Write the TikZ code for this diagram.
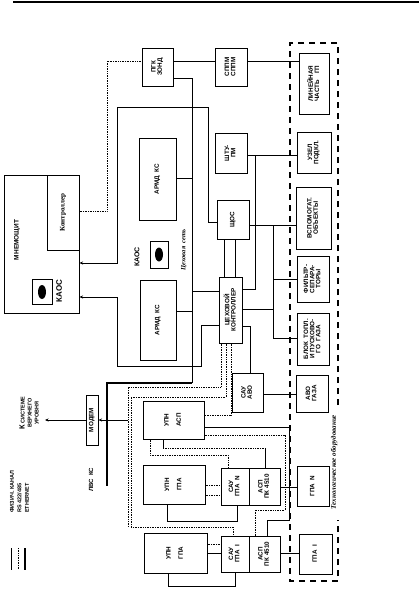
\documentclass[tikz,border=0pt]{standalone}
\usepackage{fontspec}
\usepackage{graphicx}
\setmainfont{Liberation Sans}
\newfontfamily\serifcyr{Liberation Serif}
\usetikzlibrary{arrows.meta}
\newcommand\rtxt[1]{\rotatebox{90}{\renewcommand\arraystretch{0.85}\begin{tabular}{@{}c@{}}#1\end{tabular}}}
\newcommand\bx[6]{%
  \pgfmathsetmacro\bxw{#4-#2}\pgfmathsetmacro\bxh{#5-#3}%
  \node[box,minimum width=\bxw pt,minimum height=\bxh pt] (#1) at ({(#2+#4)/2},{(#3+#5)/2}) {#6};}
\begin{document}
\begin{tikzpicture}[x=1pt,y=-1pt,
  box/.style={draw,line width=1pt,inner sep=0pt,font=\fontsize{6.3}{7}\selectfont\bfseries},
  ln/.style={line width=0.95pt},
  eth/.style={line width=1.7pt},
  rs/.style={line width=0.65pt,dash pattern=on 0.8pt off 0.9pt},
  lbl/.style={font=\fontsize{6}{7}\selectfont\bfseries,inner sep=0pt},
  arr/.style={ln,-{Stealth[length=3.5pt,width=3pt]}},
  tech/.style={line width=1.1pt,dash pattern=on 6pt off 5pt}]
\useasboundingbox (0,0) rectangle (419,592);
\fill[white] (0,0) rectangle (419,592);
\draw[line width=1.5pt] (13,2) -- (419,2);

% boxes
\bx{mnem}{4}{175}{79}{313}{}
\node[lbl,rotate=90,font=\fontsize{6.5}{7}\selectfont\bfseries] (mnemt) at (17,240) {МНЕМОЩИТ};
\bx{ctrl}{47}{175}{79}{250}{\rotatebox{90}{\serifcyr\bfseries\fontsize{7}{8}\selectfont Контроллер}}
\bx{kaosA}{32}{279}{52}{304}{}
\fill (42,292) ellipse (4 and 7);
\node[lbl,rotate=90,font=\fontsize{8}{9}\selectfont\bfseries] (kaosAt) at (59,291) {КАОС};
\bx{pgk}{142}{48}{173}{86}{\rtxt{ПГК\\ЗОНД}}
\bx{sppm}{215}{48}{247}{86}{\rtxt{СППМ\\СППМ}}
\bx{lin}{299}{53}{329}{114}{\rtxt{ЛИНЕЙНАЯ\\ЧАСТЬ\quad ГП}}
\bx{uzel}{297}{132}{331}{173}{\rtxt{УЗЕЛ\\ПОДКЛ.}}
\bx{vsp}{296}{187}{331}{249}{\rtxt{ВСПОМОГАТ.\\ОБЪЕКТЫ}}
\bx{filt}{297}{256}{329}{302}{\rtxt{ФИЛЬТР-\\СЕПАРА-\\ТОРЫ}}
\bx{blok}{297}{313}{329}{365}{\rtxt{БЛОК\ \ ТОПЛ.\\И ПУСКОВО-\\ГО\ \ ГАЗА}}
\bx{avo}{296}{375}{328}{412}{\rtxt{АВО\\ГАЗА}}
\bx{gpaN}{297}{466}{329}{506}{\rtxt{ГПА\ \ N}}
\bx{gpaI}{299}{534}{332}{574}{\rtxt{ГПА\ \ I}}
\bx{shtu}{215}{133}{247}{173}{\rtxt{ШТУ-\\ПМ}}
\bx{shos}{217}{200}{249}{239}{\rtxt{ЩОС}}
\bx{cctrl}{219}{277}{242}{343}{\rtxt{ЦЕХОВОЙ\\КОНТРОЛЛЕР}}
\bx{sauavo}{232}{373}{263}{412}{\rtxt{САУ\\АВО}}
\bx{armA}{139}{138}{176}{220}{\rtxt{АРМД\ \ КС}}
\bx{armB}{140}{280}{176}{360}{\rtxt{АРМД\ \ КС}}
\bx{kaosB}{150}{241}{168}{268}{}
\fill (159,254.5) ellipse (4 and 7);
\node[lbl,rotate=90,font=\fontsize{7}{8}\selectfont\bfseries] (kaosBt) at (137,257) {КАОС};
\node[lbl,rotate=90,font=\serifcyr\fontsize{6.5}{7}\selectfont\bfseries\itshape] (cset) at (184,250) {Цеховая\ \ сеть};
\bx{upnasp}{143}{401}{204}{439}{\rtxt{УПН\\[6pt]АСП}}
\bx{upnN}{143}{465}{205}{504}{\rtxt{УПН\\[6pt]ГПА}}
\bx{upnI}{144}{533}{207}{573}{\rtxt{УПН\\[6pt]ГПА}}
\bx{sauN}{221}{468}{249}{505}{\rtxt{САУ\\ГПА\ \ N}}
\bx{aspN}{249}{468}{280}{505}{\rtxt{АСП\\ПК 4510}}
\bx{sauI}{221}{536}{249}{572}{\rtxt{САУ\\ГПА\ \ I}}
\bx{aspI}{249}{536}{280}{572}{\rtxt{АСП\\ПК 4510}}
\bx{modem}{86}{395}{98}{445}{\rtxt{МОДЕМ}}

% technological equipment frame
\draw[tech] (338,405) -- (338,43) -- (290,43) -- (290,581) -- (338,581) -- (338,520);
\node[rotate=90,inner sep=0pt,font=\serifcyr\fontsize{7}{8}\selectfont\bfseries\itshape] (techt) at (334,462) {Технологическое оборудование};

% texts
\node[lbl,rotate=90] (lvs) at (91,480) {ЛВС\ \ КС};
\node[lbl,rotate=90,font=\fontsize{5.5}{7}\selectfont\bfseries] (up) at (30,413) {\begin{tabular}{@{}c@{}}{\fontsize{7.5}{7}\selectfont К} СИСТЕМЕ\\ВЕРХНЕГО\\УРОВНЯ\end{tabular}};
\node[lbl,rotate=90,anchor=west,font=\fontsize{5.5}{6}\selectfont\bfseries] (lg1) at (12,513) {ФИЗИЧ. КАНАЛ};
\node[lbl,rotate=90,anchor=west,font=\fontsize{5.5}{6}\selectfont\bfseries] (lg2) at (19.5,513) {RS 422/485};
\node[lbl,rotate=90,anchor=west,font=\fontsize{5.5}{6}\selectfont\bfseries] (lg3) at (27,513) {ETHERNET};
\coordinate (l1a) at (11,548); \coordinate (l1b) at (11,570);
\coordinate (l2a) at (18,548); \coordinate (l2b) at (18,570);
\coordinate (l3a) at (25,548); \coordinate (l3b) at (25,570);
\draw[line width=0.6pt] (l1a) -- (l1b);
\draw[rs] (l2a) -- (l2b);
\draw[eth] (l3a) -- (l3b);

% connectors
\draw[ln] (pgk.east |- 0,61) -- (sppm.west |- 0,61);
\draw[ln] (sppm.east |- 0,61) -- (lin.west |- 0,61);
\draw[rs] (ctrl.east |- 0,211) -- (107,211) -- (107,61) -- (pgk.west |- 0,61);
\draw[ln] (pgk.east |- 0,78) -- (192,78) -- (192,383);
\draw[eth] (192,383) -- (107,383) -- (107,486);
\draw[ln] (armA.east |- 0,178) -- (192,178);
\draw[ln] (armB.east |- 0,311) -- (192,311);
\draw[ln] (192,291) -- (cctrl.west |- 0,291);
\draw[arr] (shos.west |- 0,222) -- (208,222) -- (208,107) -- (117,107) -- (117,263) -- (mnem.east |- 0,263);
\draw[arr] (cctrl.west |- 0,325) -- (201,325) -- (201,366) -- (117,366) -- (117,297) -- (mnem.east |- 0,297);
\draw[ln] (shos.south -| 224,0) -- (cctrl.north -| 224,0);
\draw[ln] (shos.south -| 235,0) -- (cctrl.north -| 235,0);
\draw[ln] (shtu.east |- 0,155) -- (uzel.west |- 0,155);
\draw[ln] (255,155) -- (255,289) -- (cctrl.east |- 0,289);
\draw[ln] (shos.east |- 0,225) -- (vsp.west |- 0,225);
\draw[ln] (273,225) -- (273,338) -- (blok.west |- 0,338);
\draw[ln] (273,279) -- (filt.west |- 0,279);
\draw[ln] (cctrl.east |- 0,309) -- (273,309);
\draw[ln] (cctrl.east |- 0,326) -- (250,326) -- (sauavo.north -| 250,0);
\draw[ln] (sauavo.east |- 0,394) -- (avo.west |- 0,394);
\draw[ln] (upnN.south -| 167,0) -- (167,521) -- (237,521) -- (sauN.south -| 237,0);
\draw[ln] (upnI.south -| 168,0) -- (168,586) -- (235,586) -- (sauI.south -| 235,0);
\draw[ln] (aspN.east |- 0,487) -- (gpaN.west |- 0,487);
\draw[ln] (aspI.east |- 0,553) -- (gpaI.west |- 0,553);
\draw[ln] (upnasp.east |- 0,427) -- (289,427) -- (289,520) -- (267,520) -- (aspI.north -| 267,0);
\draw[ln] (upnI.east |- 0,553) -- (sauI.west |- 0,553);
\draw[rs] (upnN.east |- 0,485) -- (sauN.west |- 0,485);
\draw[rs] (upnN.east |- 0,495) -- (sauN.west |- 0,495);
\draw[rs] (upnI.east |- 0,544) -- (sauI.west |- 0,544);
\draw[arr] (128,420) -- (modem.east);
\draw[arr] (modem.west) -- (45,420);
\draw[rs] (cctrl.south -| 221,0) -- (221,387) -- (128,387) -- (128,527);
\draw[rs] (cctrl.south -| 226,0) -- (226,397) -- (131,397) -- (131,527) -- (233,527) -- (sauI.north -| 233,0);
\draw[rs] (upnasp.south -| 150,0) -- (150,455) -- (228,455) -- (sauN.north -| 228,0);
\draw[ln] (upnasp.south -| 163,0) -- (163,448);
\draw[rs] (163,448) -- (265,448);
\draw[ln] (265,448) -- (aspN.north -| 265,0);
\draw[rs] (cctrl.south -| 231,0) -- (231,415) -- (upnasp.east |- 0,415);
\draw[rs] (upnasp.east |- 0,435) -- (285,435) -- (285,510) -- (255,510) -- (aspI.north -| 255,0);
\end{tikzpicture}
\end{document}
